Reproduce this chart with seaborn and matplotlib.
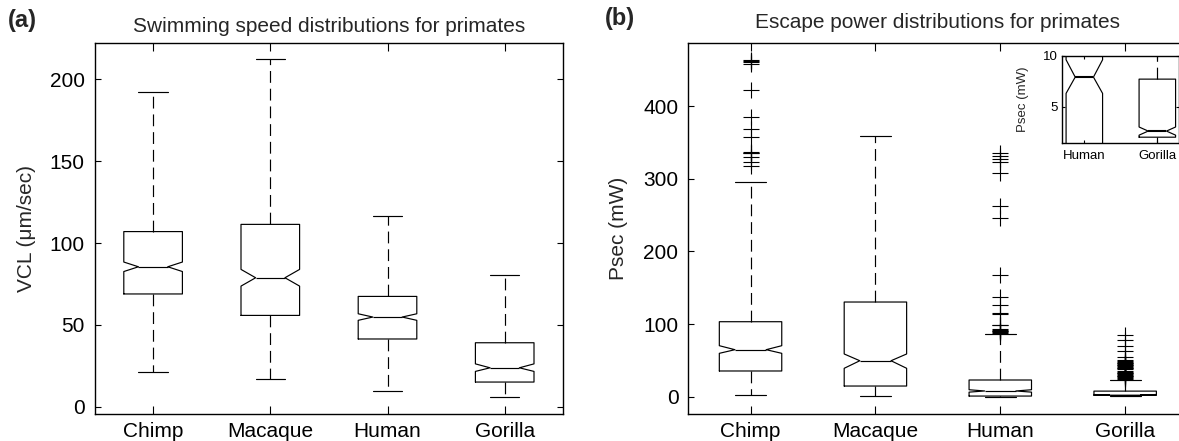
import matplotlib
matplotlib.use("Agg")
import matplotlib.pyplot as plt
import seaborn as sns
import pandas as pd

categories = ["Chimp", "Macaque", "Human", "Gorilla"]

# Panel (a): swimming speed VCL (um/sec)
vcl_whislo = [21.4, 16.7, 9.6, 5.9]
vcl_q1 = [68.9, 55.8, 41.4, 15.1]
vcl_med = [85.5, 78.8, 54.8, 23.8]
vcl_q3 = [107.0, 111.4, 67.4, 39.1]
vcl_whishi = [192.0, 212.4, 116.5, 80.5]
vcl_cilo = [82.6, 73.7, 52.8, 21.6]
vcl_cihi = [88.4, 83.9, 56.8, 26.2]

# Panel (b): escape power Psec (mW)
psec_whislo = [2.3, 1.0, 0.0, 1.0]
psec_q1 = [35.4, 14.7, 0.9, 2.0]
psec_med = [64.7, 49.5, 7.9, 2.6]
psec_q3 = [103.2, 130.3, 23.0, 7.7]
psec_whishi = [295.0, 359.2, 85.9, 22.9]
psec_cilo = [59.7, 39.1, 6.3, 2.2]
psec_cihi = [70.2, 58.8, 9.6, 3.0]

chimp_fliers = [458, 460, 462, 464, 422, 385, 369, 357, 335, 336, 337, 330, 323, 317]
macaque_fliers = []
human_fliers = [336, 331, 327, 323, 308, 262, 246, 167, 137, 126, 115, 114,
                99, 98, 93, 92, 91, 90, 89, 88]
gorilla_fliers = [85, 78, 70, 63, 55, 50, 49, 48, 47, 46, 45, 44, 43, 42, 41, 40, 39, 38,
                  35, 34, 33, 32, 31, 30, 29, 28, 27, 26, 25]

inset_categories = ["Human", "Gorilla"]

sns.set_theme(style="ticks")
plt.rcParams["font.family"] = ["Liberation Sans", "DejaVu Sans"]
plt.rcParams["axes.linewidth"] = 1.0
plt.rcParams["axes.edgecolor"] = "black"

FS = 15

fig = plt.figure(figsize=(11.79, 4.41), dpi=100)
W, H = 1179.0, 441.0


def px_axes(left, right, top, bottom):
    return fig.add_axes([left / W, 1 - bottom / H, (right - left) / W, (bottom - top) / H])


def make_stats(whislo, q1, med, q3, whishi, cilo, cihi, fliers_list, labels):
    stats = []
    for i, lab in enumerate(labels):
        stats.append(dict(label=lab, whislo=whislo[i], q1=q1[i], med=med[i], q3=q3[i],
                          whishi=whishi[i], cilo=cilo[i], cihi=cihi[i],
                          fliers=fliers_list[i] if fliers_list else []))
    return stats


LW = 0.85
box_kw = dict(
    widths=0.5, capwidths=0.25, shownotches=True, showfliers=False, patch_artist=False,
    boxprops=dict(color="black", lw=LW),
    whiskerprops=dict(color="black", lw=LW, linestyle=(0, (10, 5))),
    capprops=dict(color="black", lw=LW),
    medianprops=dict(color="black", lw=LW),
    manage_ticks=False,
)


def style_axes(ax, xlen=5.5, ylen=4.5, fs=FS, pady=7, padx=5.5):
    ax.tick_params(axis="both", direction="in", top=True, right=True, colors="black",
                   labelsize=fs, width=0.8)
    ax.tick_params(axis="x", length=xlen, pad=padx)
    ax.tick_params(axis="y", length=ylen, pad=pady)
    for s in ax.spines.values():
        s.set_visible(True)
        s.set_color("black")
        s.set_linewidth(1.0)


# ---------- Panel (a) ----------
axa = px_axes(94.5, 563.3, 43.3, 414.3)
stats_a = make_stats(vcl_whislo, vcl_q1, vcl_med, vcl_q3, vcl_whishi, vcl_cilo, vcl_cihi,
                     None, categories)
axa.bxp(stats_a, positions=range(len(categories)), **box_kw)
axa.set_xlim(-0.5, 3.5)
axa.set_ylim(-4.6, 222)
axa.set_xticks(range(len(categories)))
axa.set_xticklabels(categories)
axa.set_yticks([0, 50, 100, 150, 200])
style_axes(axa)
axa.set_title("Swimming speed distributions for primates", fontsize=FS, pad=8.4)
axa.set_ylabel("VCL (\u03bcm/sec)", fontsize=FS)
axa.yaxis.set_label_coords(-0.124, 0.5)
axa.set_xlabel("")

# ---------- Panel (b) ----------
axb = px_axes(688.1, 1187.6, 43.3, 414.3)
flier_df = pd.DataFrame({
    "species": (["Chimp"] * len(chimp_fliers) + ["Macaque"] * len(macaque_fliers)
                + ["Human"] * len(human_fliers) + ["Gorilla"] * len(gorilla_fliers)),
    "psec": chimp_fliers + macaque_fliers + human_fliers + gorilla_fliers,
})
sns.stripplot(data=flier_df, x="species", y="psec", order=categories, jitter=False,
              marker="+", color="black", size=11, linewidth=0.8, ax=axb, zorder=3)
stats_b = make_stats(psec_whislo, psec_q1, psec_med, psec_q3, psec_whishi, psec_cilo,
                     psec_cihi, None, categories)
axb.bxp(stats_b, positions=range(len(categories)), **box_kw)
axb.set_xlim(-0.5, 3.5)
axb.set_ylim(-24.2, 486.3)
axb.set_xticks(range(len(categories)))
axb.set_xticklabels(categories)
axb.set_yticks([0, 100, 200, 300, 400])
style_axes(axb)
axb.set_title("Escape power distributions for primates", fontsize=FS, pad=10.8)
axb.set_ylabel("Psec (mW)", fontsize=FS)
axb.yaxis.set_label_coords(-0.121, 0.5)
axb.set_xlabel("")

# ---------- Inset ----------
axi = px_axes(1061.7, 1178.5, 55.7, 143.3)
stats_i = make_stats(psec_whislo[2:], psec_q1[2:], psec_med[2:], psec_q3[2:],
                     psec_whishi[2:], psec_cilo[2:], psec_cihi[2:], None, inset_categories)
ikw = dict(box_kw)
ikw["medianprops"] = dict(color="black", lw=1.5)
axi.bxp(stats_i, positions=[1, 2], **ikw)
axi.set_xlim(0.69, 2.29)
axi.set_ylim(1.4, 10)
axi.set_xticks([1, 2])
axi.set_xticklabels(inset_categories)
axi.set_yticks([5, 10])
style_axes(axi, xlen=2.5, ylen=2.5, fs=9.5, pady=3, padx=4.5)
axi.set_ylabel("Psec (mW)", fontsize=9.5)
axi.yaxis.set_label_coords(-0.28, 0.5)
axi.patch.set_facecolor("white")

# panel letters
fig.text(8 / W, 1 - 9 / H, "(a)", fontsize=17, fontweight="bold", va="top", ha="left")
fig.text(605 / W, 1 - 7 / H, "(b)", fontsize=17, fontweight="bold", va="top", ha="left")

fig.savefig("out.png", dpi=100)
